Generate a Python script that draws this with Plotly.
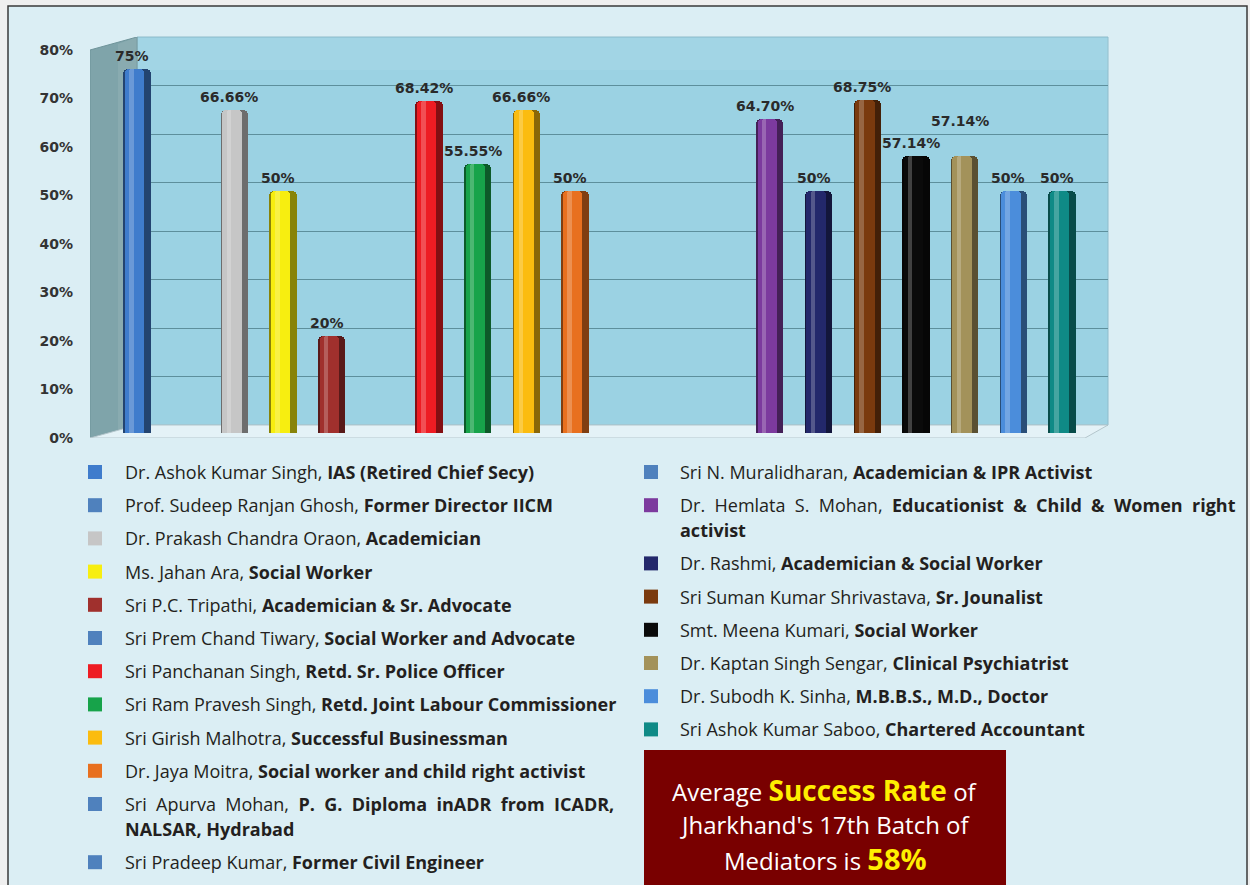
import plotly.graph_objects as go

# ---------------- data ----------------
names = [
    "Dr. Ashok Kumar Singh", "Prof. Sudeep Ranjan Ghosh", "Dr. Prakash Chandra Oraon",
    "Ms. Jahan Ara", "Sri P.C. Tripathi", "Sri Prem Chand Tiwary", "Sri Panchanan Singh",
    "Sri Ram Pravesh Singh", "Sri Girish Malhotra", "Dr. Jaya Moitra", "Sri Apurva Mohan",
    "Sri Pradeep Kumar", "Sri N. Muralidharan", "Dr. Hemlata S. Mohan", "Dr. Rashmi",
    "Sri Suman Kumar Shrivastava", "Smt. Meena Kumari", "Dr. Kaptan Singh Sengar",
    "Dr. Subodh K. Sinha", "Sri Ashok Kumar Saboo",
]
roles = [
    "IAS (Retired Chief Secy)", "Former Director IICM", "Academician", "Social Worker",
    "Academician & Sr. Advocate", "Social Worker and Advocate", "Retd. Sr. Police Officer",
    "Retd. Joint Labour Commissioner", "Successful Businessman",
    "Social worker and child right activist",
    "P. G. Diploma inADR from ICADR,|NALSAR, Hydrabad", "Former Civil Engineer",
    "Academician & IPR Activist", "Educationist & Child & Women right|activist",
    "Academician & Social Worker", "Sr. Jounalist", "Social Worker", "Clinical Psychiatrist",
    "M.B.B.S., M.D., Doctor", "Chartered Accountant",
]
values = [75, 0, 66.66, 50, 20, 0, 68.42, 55.55, 66.66, 50, 0, 0, 0,
          64.70, 50, 68.75, 57.14, 57.14, 50, 50]
value_labels = ["75%", "", "66.66%", "50%", "20%", "", "68.42%", "55.55%", "66.66%", "50%",
                "", "", "", "64.70%", "50%", "68.75%", "57.14%", "57.14%", "50%", "50%"]
colors = ["#3f7ccc", "#4f81bd", "#c6c6c6", "#f7ee10", "#a0302d", "#4f81bd", "#ee1c23",
          "#17a34a", "#fbbc0f", "#e8701f", "#4f81bd", "#4f81bd", "#4f81bd", "#7c3a9e",
          "#23286b", "#7a3a0e", "#0a0a0a", "#a3925a", "#4b8ddb", "#0f8a86"]
y_ticks = [0, 10, 20, 30, 40, 50, 60, 70, 80]
y_tick_text = ["0%", "10%", "20%", "30%", "40%", "50%", "60%", "70%", "80%"]
left_column = 12  # first 12 entries in the left legend column

# ---------------- geometry helpers (pixel layout) ----------------
W, H = 1250, 885
L, R, T, B = 90, 1108, 37, 438
PW, PH = R - L, B - T
X0PX, STEP = 137.0, 48.68          # pixel centre of first slot, slot spacing
WALL0, UNIT = 425.0, 4.85          # back-wall 0% pixel row, px per percent
BAR_SHIFT = 8.0                    # bars sit a little in front of the back wall

def dx(px):
    return (px - X0PX) / STEP

def dy(py):
    return (WALL0 - py) / UNIT

def xp(px):
    return (px - L) / PW

def yp(py):
    return (B - py) / PH

def shade(hexc, f):
    h = hexc.lstrip("#")
    r, g, b = int(h[0:2], 16), int(h[2:4], 16), int(h[4:6], 16)
    if f < 0:
        k = 1 + f
        r, g, b = r * k, g * k, b * k
    else:
        r, g, b = r + (255 - r) * f, g + (255 - g) * f, b + (255 - b) * f
    return "rgb(%d,%d,%d)" % (round(r), round(g), round(b))

xs = list(range(len(values)))

fig = go.Figure()

# cylinder-like bars: dark rim, body, highlight
fig.add_trace(go.Bar(
    x=xs, y=values, width=0.56, yaxis="y2",
    marker=dict(color=[shade(c, -0.45) for c in colors], line=dict(width=0), cornerradius=5),
    hoverinfo="skip", showlegend=False,
))
fig.add_trace(go.Bar(
    x=xs, y=values, width=0.40, offset=-0.25, yaxis="y2",
    marker=dict(color=colors, line=dict(width=0), cornerradius=4),
    hoverinfo="skip", showlegend=False,
))
fig.add_trace(go.Bar(
    x=xs, y=values, width=0.09, offset=-0.16, yaxis="y2",
    marker=dict(color=[shade(c, 0.28) for c in colors], line=dict(width=0), cornerradius=2),
    opacity=0.8, hoverinfo="skip", showlegend=False,
))

shapes = []
# page panel
shapes.append(dict(type="rect", xref="paper", yref="paper", layer="below",
                   x0=xp(8), x1=xp(1247), y0=yp(895), y1=yp(6),
                   fillcolor="#dbeef4", line=dict(color="#3a3a3a", width=1.5)))
# back wall
shapes.append(dict(type="rect", xref="paper", yref="paper", layer="below",
                   x0=xp(137), x1=xp(1108), y0=yp(425), y1=yp(37),
                   fillcolor="#9bd2e3", line=dict(color="#8fbccb", width=1)))
# subtle lighter streak on the wall
shapes.append(dict(type="rect", xref="paper", yref="paper", layer="below",
                   x0=xp(137), x1=xp(1108), y0=yp(70), y1=yp(38),
                   fillcolor="rgba(255,255,255,0.07)", line=dict(width=0)))

def path(pts):
    s = "M %f,%f " % (dx(pts[0][0]), dy(pts[0][1]))
    for p in pts[1:]:
        s += "L %f,%f " % (dx(p[0]), dy(p[1]))
    return s + "Z"

# side wall
shapes.append(dict(type="path", xref="x", yref="y", layer="between",
                   path=path([(90, 50), (137, 37), (137, 425), (90, 438)]),
                   fillcolor="#7fa4aa", line=dict(color="#6f949a", width=1)))
shapes.append(dict(type="path", xref="x", yref="y", layer="between",
                   path=path([(118, 44), (137, 37), (137, 425), (118, 430)]),
                   fillcolor="rgba(255,255,255,0.08)", line=dict(width=0)))
# floor
shapes.append(dict(type="path", xref="x", yref="y", layer="between",
                   path=path([(90, 438), (137, 425), (1108, 425), (1085, 438)]),
                   fillcolor="#e4f2f7", line=dict(color="#b4c6cc", width=1)))

annotations = []

# ---------------- value labels (raised when neighbours collide) ----------------
LAB_FONT = dict(family="DejaVu Sans", size=14, color="#2a2a2a", weight="bold")
placed = []
for i, (v, lab) in enumerate(zip(values, value_labels)):
    if not lab:
        continue
    w = len(lab) * 9.6
    lift = 0
    for (pi, pv, pw, plift) in placed:
        horiz = abs(i - pi) * STEP < (w + pw) / 2
        vert = abs((v - pv) * UNIT + (lift - plift)) < 18
        if horiz and vert:
            lift = plift + 22
    placed.append((i, v, w, lift))
    annotations.append(dict(x=i, y=v, xref="x", yref="y2", text=lab, showarrow=False,
                            xanchor="center", yanchor="bottom", xshift=-5, yshift=3 + lift,
                            font=LAB_FONT))

# ---------------- legend ----------------
def row_positions(n_lines_list, start):
    ys, y = [], start
    for n in n_lines_list:
        ys.append(y)
        y += 33.2 + (n - 1) * 25
    return ys

left_lines = [len(r.split("|")) for r in roles[:left_column]]
right_lines = [len(r.split("|")) for r in roles[left_column:]]
rows = row_positions(left_lines, 472) + row_positions(right_lines, 472)

LEG_FONT = dict(family="Open Sans", size=18, color="#231f20")
for i, (nm, rl) in enumerate(zip(names, roles)):
    left = i < left_column
    sq_x = 88 if left else 644
    tx = 123 if left else 678
    yc = rows[i]
    shapes.append(dict(type="rect", xref="paper", yref="paper",
                       x0=xp(sq_x), x1=xp(sq_x + 14), y0=yp(yc + 7), y1=yp(yc - 7),
                       fillcolor=colors[i], line=dict(width=0)))
    parts = rl.split("|")
    if len(parts) == 1:
        txt = nm + ", <b>" + parts[0] + "</b>"
        annotations.append(dict(x=xp(tx), y=yp(yc), xref="paper", yref="paper",
                                text=txt, showarrow=False, xanchor="left",
                                yanchor="middle", font=LEG_FONT))
    else:
        sp = "\u00a0\u00a0"
        first = (nm + ", <b>" + parts[0] + "</b>").replace(" ", sp)
        annotations.append(dict(x=xp(tx), y=yp(yc), xref="paper", yref="paper",
                                text=first, showarrow=False, xanchor="left",
                                yanchor="middle", font=LEG_FONT))
        annotations.append(dict(x=xp(tx), y=yp(yc + 25), xref="paper", yref="paper",
                                text="<b>" + parts[1] + "</b>", showarrow=False,
                                xanchor="left", yanchor="middle", font=LEG_FONT))

# ---------------- summary box ----------------
shapes.append(dict(type="rect", xref="paper", yref="paper",
                   x0=xp(644), x1=xp(1006), y0=yp(900), y1=yp(750),
                   fillcolor="#790000", line=dict(width=0)))
BOX_FONT = dict(family="Open Sans", size=24, color="#ffffff")
YEL = "#ffee00"
box_lines = [
    (790, "Average <span style='color:%s;font-size:28px'><b>Success Rate</b></span> of" % YEL),
    (824, "Jharkhand's 17th Batch of"),
    (858, "Mediators is <span style='color:%s;font-size:29px'><b>58%%</b></span>" % YEL),
]
for yy, t in box_lines:
    annotations.append(dict(x=xp(825), y=yp(yy), xref="paper", yref="paper", text=t,
                            showarrow=False, xanchor="center", yanchor="middle",
                            font=BOX_FONT))

fig.update_layout(
    width=W, height=H,
    margin=dict(l=L, r=W - R, t=T, b=H - B, pad=0),
    paper_bgcolor="#efefef",
    plot_bgcolor="rgba(0,0,0,0)",
    barmode="overlay",
    bargap=0,
    showlegend=False,
    shapes=shapes,
    annotations=annotations,
    xaxis=dict(range=[dx(L), dx(R)], showgrid=False, zeroline=False,
               showticklabels=False, showline=False, fixedrange=True),
    yaxis=dict(range=[dy(B), dy(T)], tickvals=y_ticks, ticktext=y_tick_text,
               showgrid=True, gridcolor="#5d8f9c", gridwidth=1.3, zeroline=False,
               showline=False, ticks="", ticklabelshift=13, ticklabelstandoff=16,
               tickfont=dict(family="DejaVu Sans", size=14, color="#333333", weight="bold"),
               fixedrange=True),
    yaxis2=dict(range=[dy(B) + BAR_SHIFT / UNIT, dy(T) + BAR_SHIFT / UNIT],
                overlaying="y", visible=False, fixedrange=True),
)

fig.write_html(
    "out.html",
    config={"displayModeBar": False},
    post_script="document.body.style.margin='0';document.body.style.padding='0';"
                "document.body.style.overflow='hidden';",
)
